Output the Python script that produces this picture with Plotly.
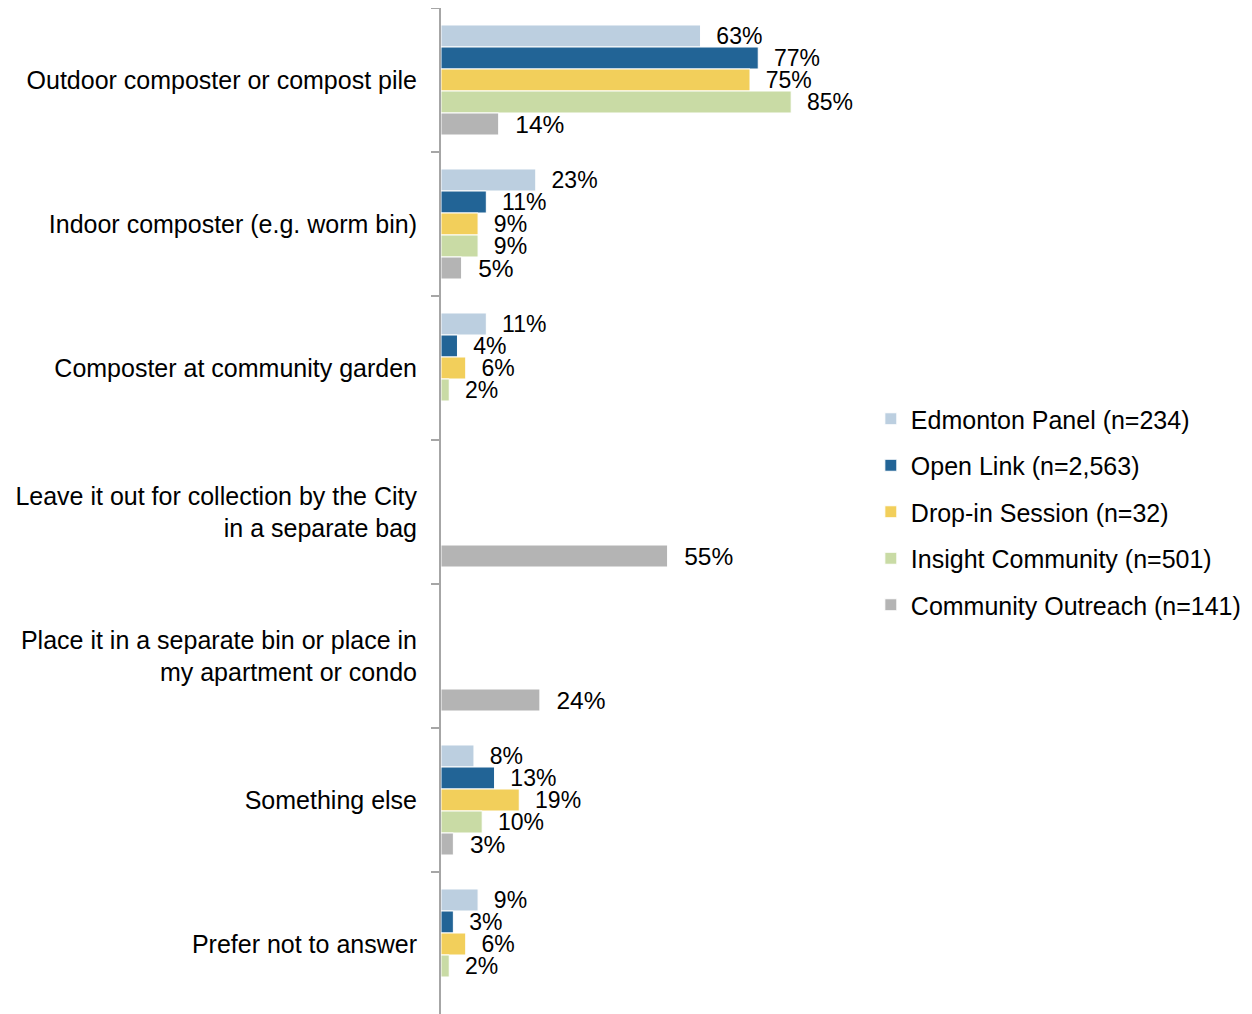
import plotly.graph_objects as go

categories = [
    "Outdoor composter or compost pile",
    "Indoor composter (e.g. worm bin)",
    "Composter at community garden",
    "Leave it out for collection by the City<br>in a separate bag",
    "Place it in a separate bin or place in<br>my apartment or condo",
    "Something else",
    "Prefer not to answer",
]
series_names = [
    "Edmonton Panel (n=234)",
    "Open Link (n=2,563)",
    "Drop-in Session (n=32)",
    "Insight Community (n=501)",
    "Community Outreach (n=141)",
]
edmonton_panel = [63, 23, 11, None, None, 8, 9]
open_link = [77, 11, 4, None, None, 13, 3]
drop_in = [75, 9, 6, None, None, 19, 6]
insight = [85, 9, 2, None, None, 10, 2]
outreach = [14, 5, None, 55, 24, 3, None]

colors = ["#BCCFE0", "#226496", "#F2CF5B", "#C9DBA5", "#B4B4B4"]
label_sizes = [23, 23, 23, 23, 24.5]
series_values = [edmonton_panel, open_link, drop_in, insight, outreach]

FONT = "Liberation Sans, Arial, sans-serif"
NB = "\u00a0\u00a0"

fig = go.Figure()
for i, (name, vals) in enumerate(zip(series_names, series_values)):
    fig.add_trace(go.Bar(
        y=categories,
        x=vals,
        name=name,
        orientation="h",
        marker=dict(color=colors[i], line=dict(color="white", width=1)),
        text=[(NB + f"{v}%") if v is not None else "" for v in vals],
        textposition="outside",
        textfont=dict(size=label_sizes[i], color="#000000", family=FONT),
        constraintext="none",
        cliponaxis=False,
        legendgroup=f"g{i}",
        hoverinfo="skip",
    ))

fig.update_layout(
    width=1252,
    height=1014,
    autosize=False,
    barmode="group",
    bargap=0.236,
    bargroupgap=0,
    plot_bgcolor="white",
    paper_bgcolor="white",
    font=dict(family=FONT, size=25, color="#000000"),
    margin=dict(l=433, r=407, t=0, b=6),
    showlegend=True,
    legend=dict(
        x=1.0433, y=0.5, xanchor="left", yanchor="middle",
        font=dict(size=25, family=FONT, color="#000000"),
        tracegroupgap=11,
        bgcolor="rgba(0,0,0,0)",
    ),
    xaxis=dict(range=[0, 100], visible=False, showgrid=False, zeroline=False),
    yaxis=dict(
        categoryorder="array",
        categoryarray=categories,
        autorange="reversed",
        showline=True,
        linecolor="#A6A6A6",
        linewidth=2,
        ticks="outside",
        ticklen=8,
        tickcolor="#A6A6A6",
        tickwidth=2,
        tickson="boundaries",
        showgrid=False,
        ticklabelstandoff=17,
        tickfont=dict(size=25, family=FONT, color="#000000"),
        automargin=False,
    ),
)

fig.write_html("out.html")
